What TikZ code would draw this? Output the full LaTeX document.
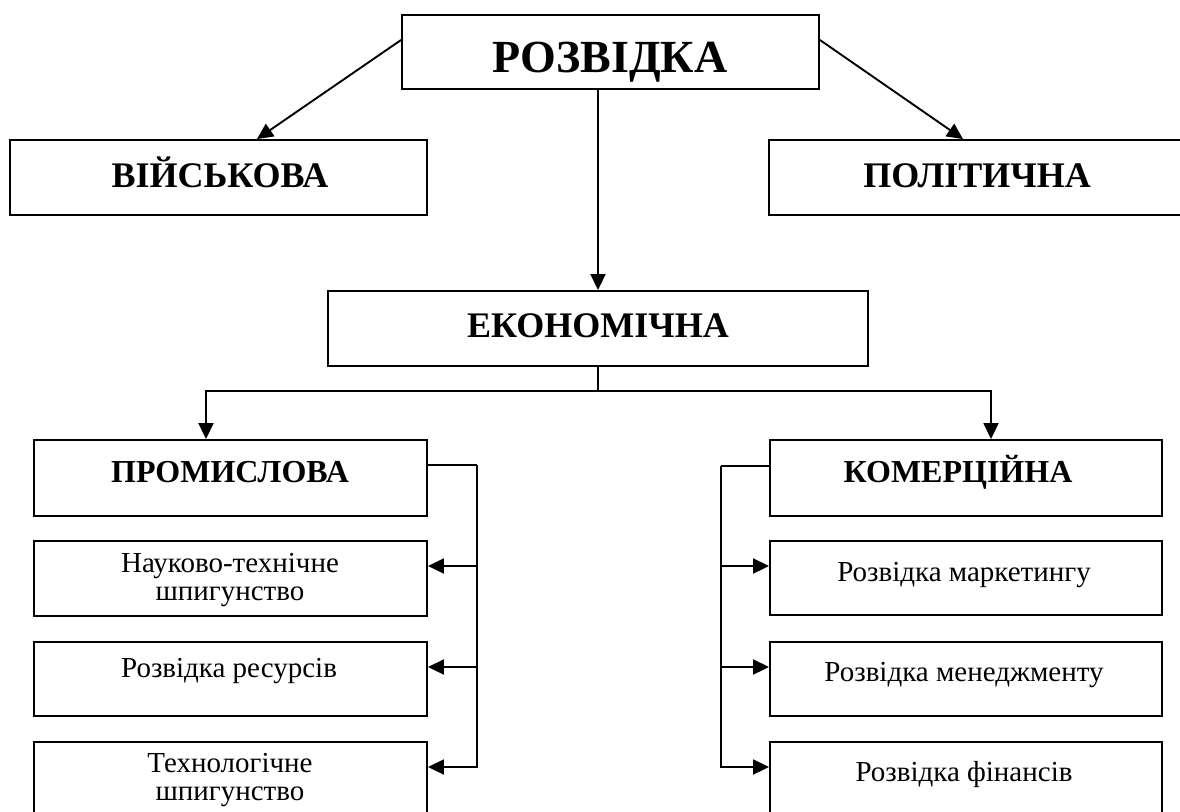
\documentclass[tikz,border=0pt]{standalone}
\usepackage{fontspec}
\setmainfont{Liberation Serif}
\usetikzlibrary{arrows.meta}
\begin{document}
\begin{tikzpicture}[x=1pt,y=-1pt,
  box/.style={draw,line width=1.9pt,inner sep=0pt,minimum width=#1},
  box/.default=417pt,
  lab/.style={anchor=base,inner sep=0pt,align=center},
  arr/.style={line width=1.9pt,-{Triangle[length=16pt,width=15pt]}},
  ln/.style={line width=1.9pt},
  big/.style={font=\fontsize{46}{50}\selectfont\bfseries},
  mid/.style={font=\fontsize{36}{40}\selectfont\bfseries},
  sml/.style={font=\fontsize{32}{36}\selectfont\bfseries},
  reg/.style={font=\fontsize{29}{28}\selectfont}]
\useasboundingbox (0,0) rectangle (1180,811);
\clip (0,0) rectangle (1180,811);
\fill[white] (0,0) rectangle (1180,811);
% boxes
\node[box,minimum height=74pt] (razv) at (610.5,52) {};
\node[box,minimum height=75pt] (mil) at (218.5,177.5) {};
\node[box,minimum height=75pt] (pol) at (977.5,177.5) {};
\node[box=540pt,minimum height=75pt] (econ) at (598,328.5) {};
\node[box=393pt,minimum height=76pt] (prom) at (230.5,478) {};
\node[box=393pt,minimum height=75pt] (nt) at (230.5,578.5) {};
\node[box=393pt,minimum height=74pt] (res) at (230.5,679) {};
\node[box=393pt,minimum height=76pt] (tech) at (230.5,780) {};
\node[box=392pt,minimum height=76pt] (kom) at (966,478) {};
\node[box=392pt,minimum height=74pt] (mark) at (966,578) {};
\node[box=392pt,minimum height=74pt] (man) at (966,679) {};
\node[box=392pt,minimum height=76pt] (fin) at (966,780) {};
% texts
\node[lab,big] (razvT) at (610,72) {РОЗВІДКА};
\node[lab,mid] (milT) at (220,187) {ВІЙСЬКОВА};
\node[lab,mid] (polT) at (977,187) {ПОЛІТИЧНА};
\node[lab,mid] (econT) at (598,337) {ЕКОНОМІЧНА};
\node[lab,sml] (promT) at (230,482) {ПРОМИСЛОВА};
\node[lab,sml] (komT) at (958,482) {КОМЕРЦІЙНА};
\node[lab,reg] (ntT) at (230,600) {Науково-технічне\\шпигунство};
\node[lab,reg] (resT) at (229,677) {Розвідка ресурсів};
\node[lab,reg] (techT) at (230,800) {Технологічне\\шпигунство};
\node[lab,reg] (markT) at (964,581) {Розвідка маркетингу};
\node[lab,reg] (manT) at (964,681) {Розвідка менеджменту};
\node[lab,reg] (finT) at (964,781) {Розвідка фінансів};
% connectors
\draw[arr] ([yshift=12pt]razv.west) -- ([xshift=38.5pt]mil.north);
\draw[arr] ([yshift=12pt]razv.east) -- ([xshift=-14.5pt]pol.north);
\draw[arr] ([xshift=-12.5pt]razv.south) -- (econ.north);
\draw[ln] (econ.south) -- ++(0,24) coordinate (bus);
\draw[arr] (bus) -| ([xshift=-24.5pt]prom.north);
\draw[arr] (bus) -| ([xshift=25pt]kom.north);
\draw[ln] ([yshift=13pt]prom.east) -- ++(49,0) coordinate (lb);
\draw[arr] (lb) |- ([yshift=12.5pt]nt.east);
\draw[arr] (lb) |- ([yshift=12pt]res.east);
\draw[arr] (lb) |- ([yshift=13pt]tech.east);
\draw[ln] ([yshift=12pt]kom.west) -- ++(-48,0) coordinate (rb);
\draw[arr] (rb) |- ([yshift=12pt]mark.west);
\draw[arr] (rb) |- ([yshift=12pt]man.west);
\draw[arr] (rb) |- ([yshift=13pt]fin.west);
\end{tikzpicture}
\end{document}
